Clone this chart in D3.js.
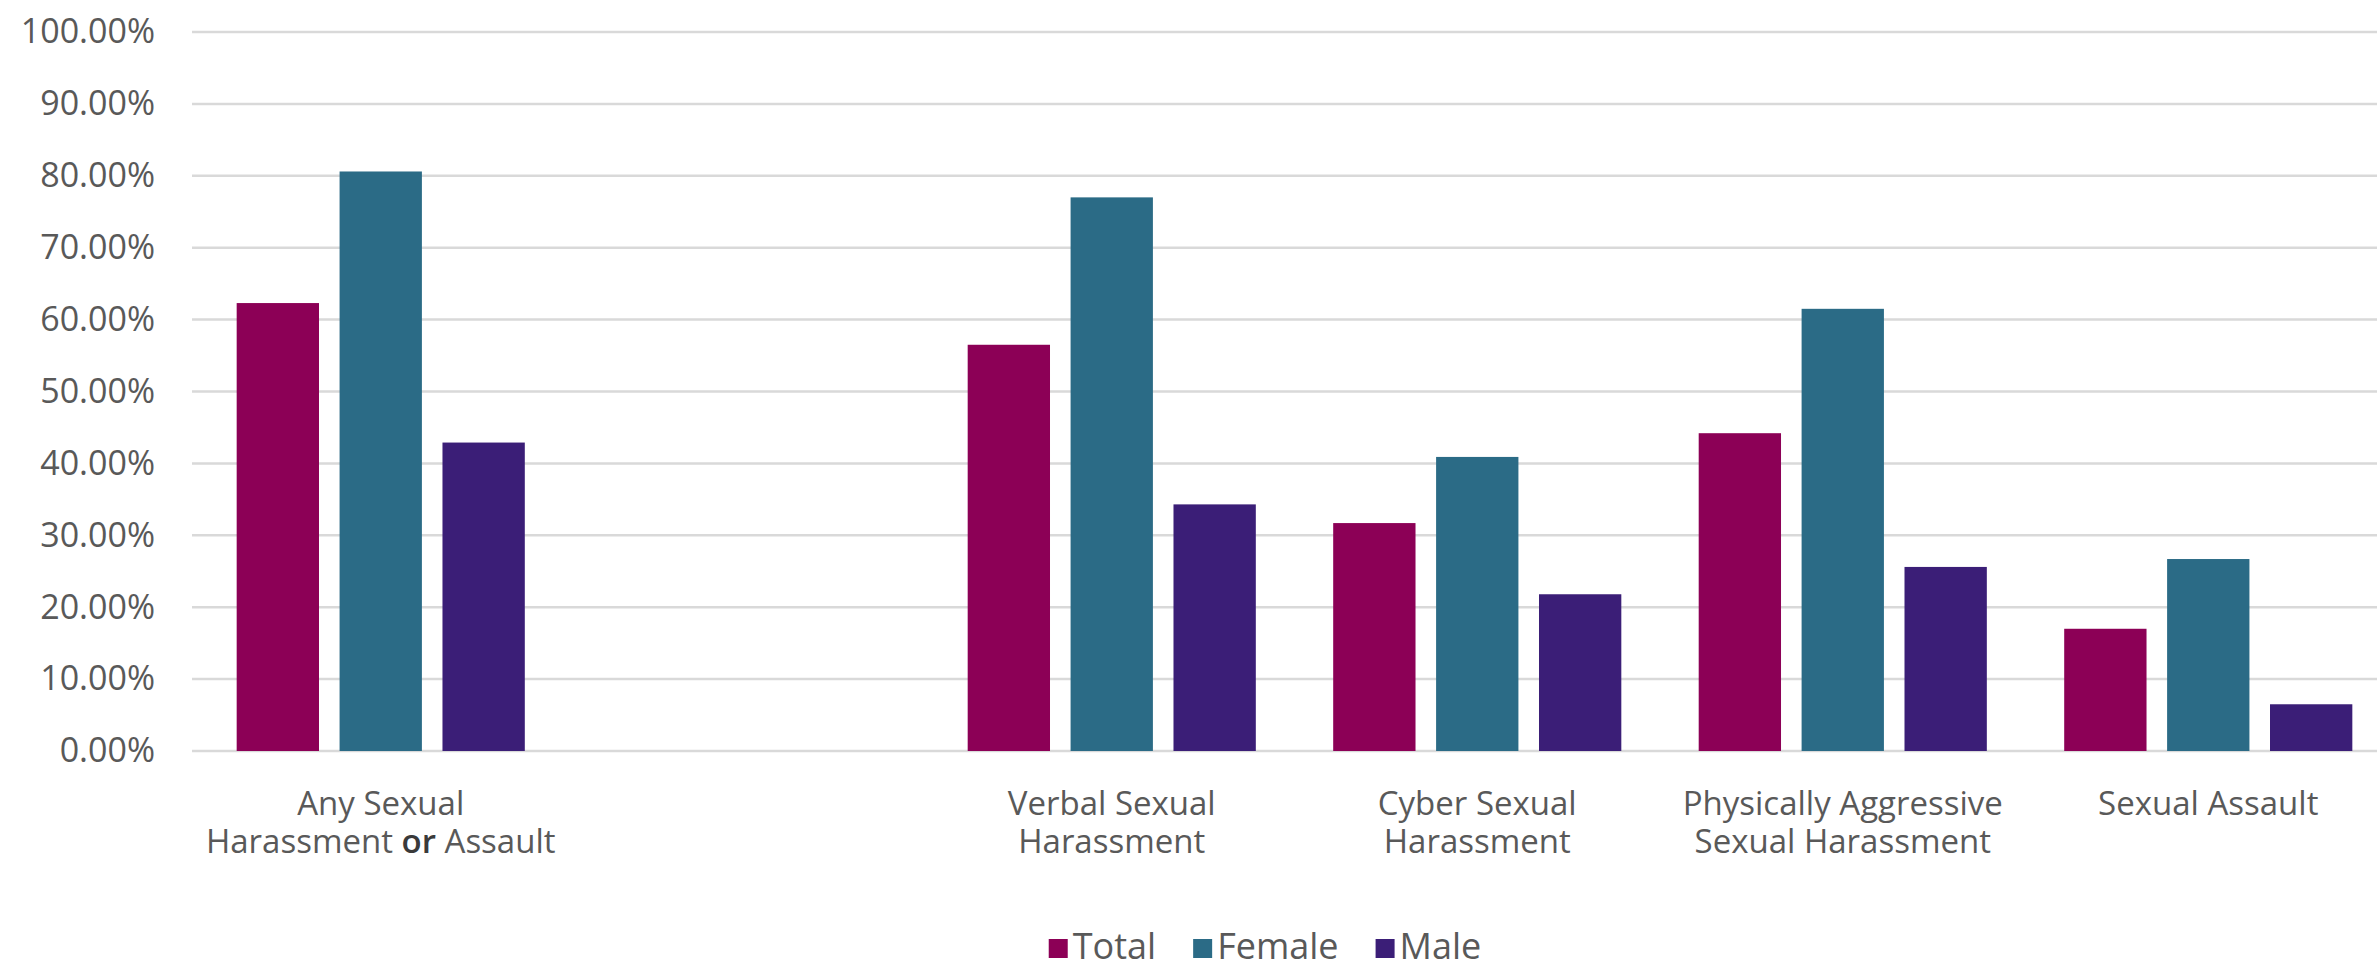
<!DOCTYPE html>
<html>
<head>
<meta charset="utf-8">
<script src="https://cdn.jsdelivr.net/npm/d3@7"></script>
<style>
    html, body { margin: 0; padding: 0; background: #ffffff; }
    svg { display: block; font-family: "Open Sans", "Noto Sans", sans-serif; }
</style>
</head>
<body>
<div id="chart"></div>
<script>
const WIDTH = 2377;
const HEIGHT = 963;

// categories, the empty one is the blank slot after the first group
const categories = [
    "Any Sexual\nHarassment or Assault",
    "",
    "Verbal Sexual\nHarassment",
    "Cyber Sexual\nHarassment",
    "Physically Aggressive\nSexual Harassment",
    "Sexual Assault"
];
const seriesNames = ["Total", "Female", "Male"];
const total = [62.3, null, 56.5, 31.7, 44.2, 17.0];
const female = [80.6, null, 77.0, 40.9, 61.5, 26.7];
const male = [42.9, null, 34.3, 21.8, 25.6, 6.5];
const yTicks = [0, 10, 20, 30, 40, 50, 60, 70, 80, 90, 100];
const colors = ["#8c0056", "#2b6b86", "#3b1e77"];

const margin = {top: 32, right: 0, bottom: 212, left: 198};
const plotHeight = HEIGHT - margin.top - margin.bottom;

const svg = d3.select("#chart").append("svg")
    .attr("width", WIDTH)
    .attr("height", HEIGHT);

const x0 = d3.scaleBand()
    .domain(categories.map((d, i) => i))
    .range([margin.left, margin.left + 6 * 365.5])
    .paddingInner(0.2117)
    .paddingOuter(0.1058);

const x1 = d3.scaleBand()
    .domain(seriesNames)
    .range([0, x0.bandwidth()])
    .paddingInner(0.2);

const y = d3.scaleLinear()
    .domain([0, 100])
    .range([margin.top + plotHeight, margin.top]);

// gridlines
svg.append("g")
    .attr("class", "grid")
    .selectAll("line")
    .data(yTicks)
    .join("line")
    .attr("x1", margin.left - 6)
    .attr("x2", WIDTH)
    .attr("y1", d => y(d))
    .attr("y2", d => y(d))
    .attr("stroke", "#d9d9d9")
    .attr("stroke-width", 2.5);

// y axis labels
const yAxis = d3.axisLeft(y)
    .tickValues(yTicks)
    .tickSize(0)
    .tickPadding(0)
    .tickFormat(d => d.toFixed(2) + "%");

svg.append("g")
    .attr("class", "y axis")
    .attr("transform", "translate(155,0)")
    .call(yAxis)
    .call(g => g.select(".domain").remove())
    .selectAll("text")
    .attr("font-family", "'Open Sans', sans-serif")
    .attr("font-size", 34)
    .attr("fill", "#595959");

// bars
const rows = categories.map((c, i) => ({
    key: i,
    values: [total[i], female[i], male[i]]
}));

const group = svg.append("g")
    .attr("class", "bars")
    .selectAll("g")
    .data(rows)
    .join("g")
    .attr("transform", d => "translate(" + x0(d.key) + ",0)");

group.selectAll("rect")
    .data(d => d.values.map((v, j) => ({series: seriesNames[j], value: v, color: colors[j]}))
        .filter(v => v.value != null))
    .join("rect")
    .attr("x", d => x1(d.series))
    .attr("width", x1.bandwidth())
    .attr("y", d => y(d.value))
    .attr("height", d => y(0) - y(d.value))
    .attr("fill", d => d.color);

// category labels, one text per line; "or" is set darker as in the source
const labelLines = [];
categories.forEach((c, i) => {
    if (!c) return;
    c.split("\n").forEach((line, li) => labelLines.push({key: i, line: line, row: li}));
});

svg.append("g")
    .attr("class", "x axis")
    .selectAll("text")
    .data(labelLines)
    .join("text")
    .attr("text-anchor", "middle")
    .attr("font-size", 33)
    .attr("fill", "#595959")
    .attr("x", d => x0(d.key) + x0.bandwidth() / 2)
    .attr("y", d => 815 + d.row * 38)
    .each(function (d) {
        const t = d3.select(this);
        d.line.split(" ").forEach((word, wi) => {
            t.append("tspan")
                .attr("font-weight", word === "or" ? 600 : null)
                .attr("fill", word === "or" ? "#3a3a3a" : null)
                .text((wi ? " " : "") + word);
        });
    });

// legend
const legend = svg.append("g").attr("class", "legend");
const item = legend.selectAll("g")
    .data(seriesNames)
    .join("g");

item.append("rect")
    .attr("width", 19)
    .attr("height", 19)
    .attr("y", 939)
    .attr("fill", (d, i) => colors[i]);

item.append("text")
    .attr("x", 24)
    .attr("y", 959)
    .attr("font-size", 36)
    .attr("fill", "#595959")
    .text(d => d);

let offset = 0;
item.each(function () {
    const w = this.getBBox().width;
    d3.select(this).attr("transform", "translate(" + offset + ",0)");
    offset += w + 37;
});
legend.attr("transform", "translate(" + (1265 - (offset - 37) / 2) + ",0)");
</script>
</body>
</html>
